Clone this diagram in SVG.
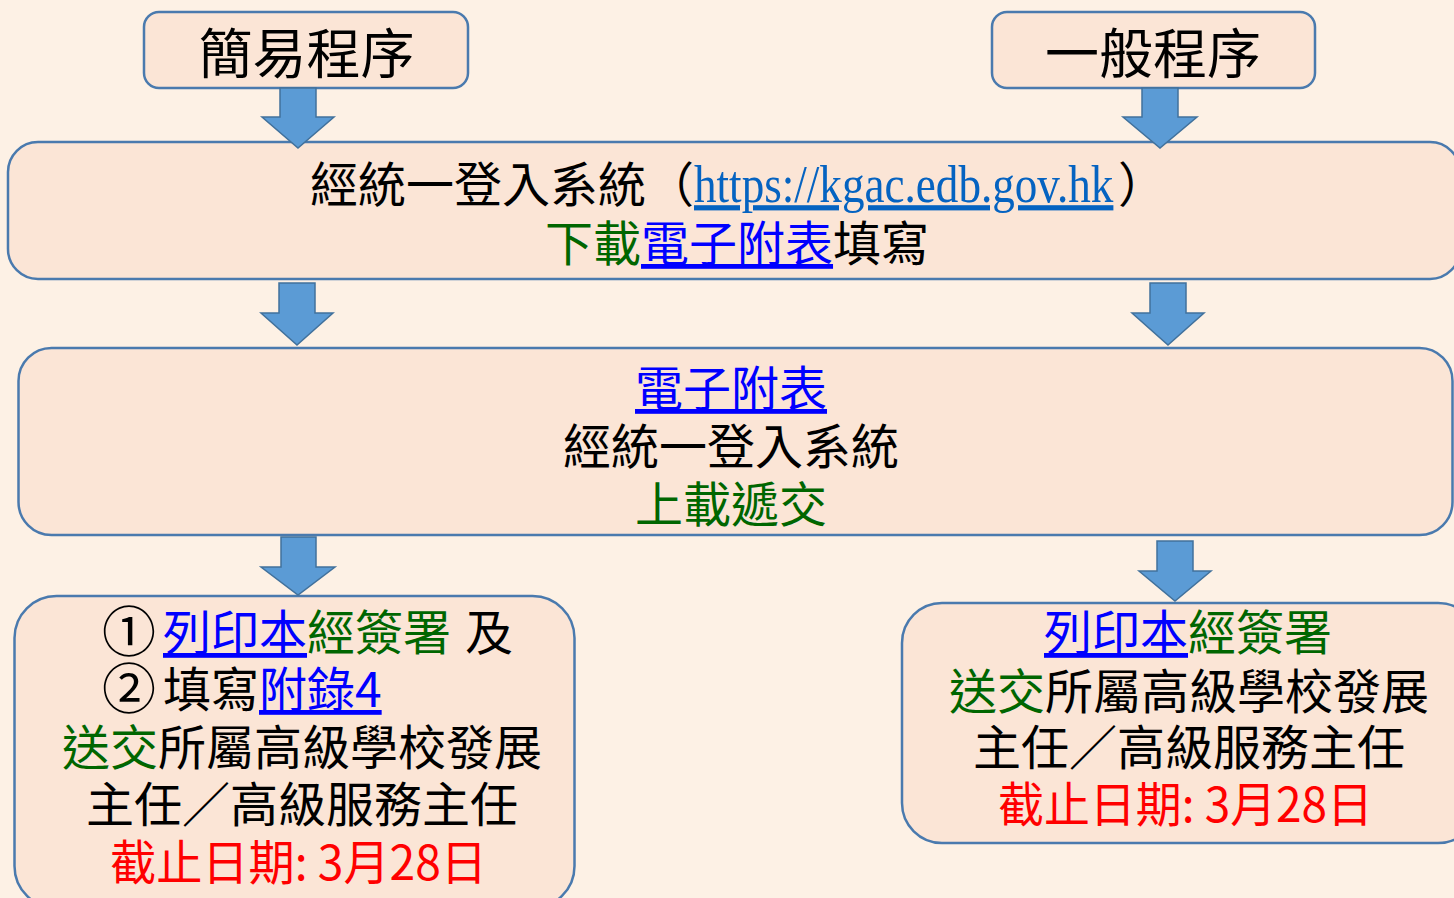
<svg xmlns="http://www.w3.org/2000/svg" width="1454" height="898" viewBox="0 0 1454 898">
<style>
.box{fill:#FBE5D6;stroke:#4A7AAE;stroke-width:2.5}
.arr{fill:#5B9BD5;stroke:#41719C;stroke-width:1.5;stroke-linejoin:miter}
text{font-family:"Noto Sans CJK TC","Noto Sans CJK SC",sans-serif;font-size:48px;fill:#000}
.t{font-size:54px}
.g{fill:#006600}
.b{fill:#0000FF;text-decoration:underline}
.r{fill:#FF0000}
.k{fill:#000}
.c{font-size:54px}
.url{font-family:"Liberation Serif",serif;font-size:52px;fill:#0563C1;text-decoration:underline}
</style>
<rect x="0" y="0" width="1454" height="898" fill="#FDF1E5"/>
<g id="node-simple">
<rect class="box" x="144" y="12" width="324" height="76" rx="15"/>
<text class="t" x="306.5" y="74" text-anchor="middle">簡易程序</text>
</g>
<g id="node-general">
<rect class="box" x="992" y="12" width="323" height="76" rx="15"/>
<text class="t" x="1153" y="74" text-anchor="middle">一般程序</text>
</g>
<g id="node-login">
<rect class="box" x="8" y="142" width="1452" height="137" rx="30"/>
<text x="310" y="202">經統一登入系統（</text>
<text class="url" transform="translate(694,202) scale(0.868,1)" x="0" y="0">https://kgac.edb.gov.hk</text>
<text x="1118" y="202">）</text>
<text x="545" y="261"><tspan class="g">下載</tspan><tspan class="b">電子附表</tspan><tspan class="k">填寫</tspan></text>
</g>
<g id="node-upload">
<rect class="box" x="18.5" y="348" width="1434" height="187" rx="33"/>
<text class="b" x="635" y="406">電子附表</text>
<text x="563" y="464">經統一登入系統</text>
<text class="g" x="635" y="522">上載遞交</text>
</g>
<g id="node-simple-submit">
<rect class="box" x="14.5" y="596" width="560" height="312" rx="42"/>
<text x="102" y="652"><tspan class="c">①</tspan><tspan class="b" x="163" y="650">列印本</tspan><tspan class="g">經簽署</tspan><tspan class="k" x="465">及</tspan></text>
<text x="102" y="709"><tspan class="c">②</tspan><tspan class="k" x="163" y="707">填寫</tspan><tspan class="b">附錄4</tspan></text>
<text x="62" y="765"><tspan class="g">送交</tspan><tspan class="k">所屬高級學校發展</tspan></text>
<text x="86" y="822">主任／高級服務主任</text>
<text class="r" x="110" y="880" textLength="377" lengthAdjust="spacingAndGlyphs">截止日期: 3月28日</text>
</g>
<g id="node-general-submit">
<rect class="box" x="902" y="603" width="576" height="240" rx="40"/>
<text x="1044" y="650"><tspan class="b">列印本</tspan><tspan class="g">經簽署</tspan></text>
<text x="949" y="709"><tspan class="g">送交</tspan><tspan class="k">所屬高級學校發展</tspan></text>
<text x="973" y="765">主任／高級服務主任</text>
<text class="r" x="998" y="822" textLength="375" lengthAdjust="spacingAndGlyphs">截止日期: 3月28日</text>
</g>
<g id="connectors">
<polygon class="arr" points="280,88 316,88 316,117 334,117 298,148 262,117 280,117"/>
<polygon class="arr" points="1142,88 1178,88 1178,117 1197,117 1160,148 1123,117 1142,117"/>
<polygon class="arr" points="279,283 315,283 315,313 333,313 297,345 261,313 279,313"/>
<polygon class="arr" points="1150,283 1186,283 1186,313 1204,313 1168,345 1132,313 1150,313"/>
<polygon class="arr" points="281,537 316,537 316,567 335,567 298,595 261,567 281,567"/>
<polygon class="arr" points="1157,541 1193,541 1193,571 1211,571 1175,601 1139,571 1157,571"/>
</g>
</svg>
